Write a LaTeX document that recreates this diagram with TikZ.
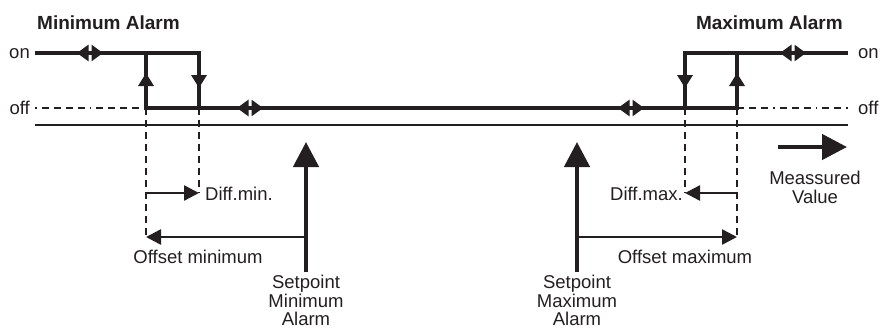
\documentclass[tikz,border=0pt]{standalone}
\usepackage{fontspec}
\setmainfont{Liberation Sans}
\usepackage{xcolor}
\usetikzlibrary{arrows.meta}
\definecolor{ink}{HTML}{231F20}
\tikzstyle{signal edge} = [draw=ink,line width=4.5pt,line join=miter]
\tikzstyle{guide edge} = [draw=ink,line width=1.5pt,dash pattern=on 7pt off 5pt]
\tikzstyle{axis edge} = [draw=ink,line width=2pt]

\begin{document}
\begin{tikzpicture}
[x=1pt,y=-1pt,
every node/.style={text=ink,inner sep=0pt,font=\fontsize{18.5}{18.5}\selectfont},
title/.style={font=\fontsize{19}{20}\selectfont\bfseries},
markTip/.style={draw=ink,line width=4.5pt,-{Triangle[length=13pt,width=15pt]}},
twinTip/.style={draw=ink,line width=4.5pt,{Triangle[length=11.5pt,width=16pt]}-{Triangle[length=11.5pt,width=16pt]}},
spanArrow/.style={draw=ink,line width=2.5pt,-{Triangle[length=15pt,width=15pt]}},
bigArrow/.style={draw=ink,line width=4.5pt,-{Triangle[length=25pt,width=25pt]}}]

\useasboundingbox (0,0) rectangle (880,329);

%% points of the switching curve
\foreach \name/\x/\y in {
onLeft/35/53, offLeft/35/108, offMinTop/146/53, offMinBot/146/108, diffMinTop/199/53, diffMinBot/199/108,
diffMaxTop/685/53, diffMaxBot/685/108, offMaxTop/737/53, offMaxBot/737/108, onRight/848/53, offRight/848/108,
axisLeft/35/125, axisRight/848/125}
{
\coordinate (\name) at (\x,\y);
}

%% points of the dimension arrows
\foreach \name/\x/\y in {
dMinA/146/193, dMinB/199/193, oMinA/306/237, oMinB/146/237, spMinFoot/306/272, spMinTip/306/142,
dMaxA/737/193, dMaxB/685/193, oMaxA/577/237, oMaxB/737/237, spMaxFoot/577/272, spMaxTip/577/142,
mvFoot/778/147, mvTip/847/147}
{
\coordinate (\name) at (\x,\y);
}

%% labels
\node[title,anchor=base west] (minTitle) at (37,30) {Minimum Alarm};
\node[title,anchor=base east] (maxTitle) at (843,30) {Maximum Alarm};
\foreach \name/\x/\y/\anchor/\text in {
onL/30/54/east/on, offL/30/108/east/off, onR/858/54/west/on, offR/858/108/west/off}
{
\node[anchor=\anchor] (\name) at (\x,\y) {\text};
}

%% axis and off level
\draw[axis edge] (axisLeft) -- (axisRight);
\draw[guide edge,dash pattern=on 1.5pt off 5pt on 7pt off 5pt on 7pt off 5pt on 7pt off 5pt on 7pt off 5pt] (offLeft) -- (offMinBot);
\draw[guide edge,dash pattern=on 7pt off 5pt on 7pt off 5pt on 7pt off 5pt on 1.5pt off 5pt] (offMaxBot) -- (offRight);

%% dashed drop lines
\path
\foreach \startnode/\endnode in {offMinBot/oMinB, diffMinBot/dMinB, diffMaxBot/dMaxB, offMaxBot/oMaxB}
{
(\startnode) edge[guide edge] (\endnode)
};

%% switching curve
\draw[signal edge] (onLeft) -- (diffMinTop) -- (diffMinBot);
\draw[signal edge] (offMinTop) -- (offMinBot) -- (offMaxBot) -- (offMaxTop);
\draw[signal edge] (diffMaxBot) -- (diffMaxTop) -- (onRight);

%% direction marks
\draw[markTip] (146,90) -- (146,73);
\draw[markTip] (199,72) -- (199,88);
\draw[markTip] (685,72) -- (685,88);
\draw[markTip] (737,90) -- (737,73);
\foreach \x/\y in {77/53, 237/108, 618/108, 780/53}
{
\draw[twinTip] (\x,\y) -- ++(26,0);
}

%% dimension arrows
\draw[spanArrow] (dMinA) -- (dMinB);
\draw[spanArrow] (oMinA) -- (oMinB);
\draw[spanArrow] (dMaxA) -- (dMaxB);
\draw[spanArrow] (oMaxA) -- (oMaxB);
\draw[bigArrow] (spMinFoot) -- (spMinTip);
\draw[bigArrow] (spMaxFoot) -- (spMaxTip);
\draw[bigArrow] (mvFoot) -- (mvTip);

\node[anchor=base west] (dMinLabel) at (205,200) {Diff.min.};
\node[anchor=base east] (dMaxLabel) at (683,200) {Diff.max.};
\node[anchor=base] (oMinLabel) at (198,263) {Offset minimum};
\node[anchor=base] (oMaxLabel) at (685,263) {Offset maximum};
\node[anchor=north,align=center] (spMinLabel) at (306,275) {Setpoint\\Minimum\\Alarm};
\node[anchor=north,align=center] (spMaxLabel) at (577,275) {Setpoint\\Maximum\\Alarm};
\node[anchor=north,align=center] (mvLabel) at (815,171) {Meassured\\Value};

\end{tikzpicture}
\end{document}
